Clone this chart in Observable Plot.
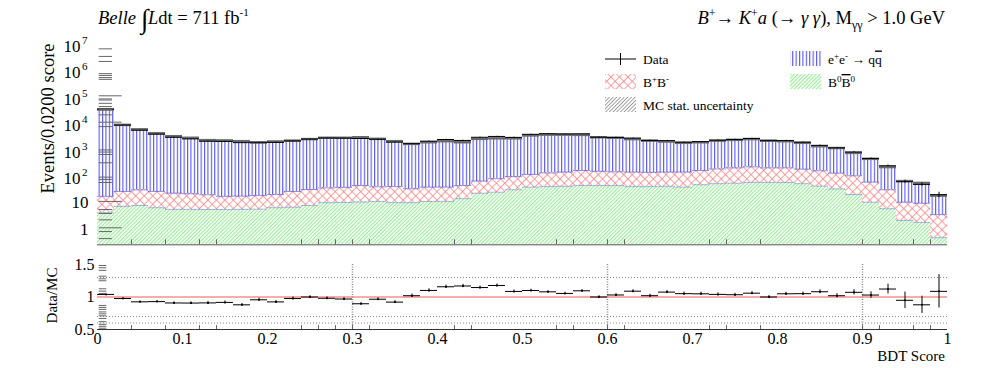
<!DOCTYPE html>
<html><head><meta charset="utf-8">
<script src="https://cdn.jsdelivr.net/npm/d3@7"></script>
<script src="https://cdn.jsdelivr.net/npm/@observablehq/plot@0.6"></script>
<style>
body{margin:0;background:#fff;}
#wrap{position:relative;width:997px;height:368px;font-family:"Liberation Serif","Times New Roman",serif;overflow:hidden;}
#wrap > svg{position:absolute;left:0;overflow:visible;}
</style></head><body>
<svg width="0" height="0" style="position:absolute">
<defs>
<pattern id="pBlue" patternUnits="userSpaceOnUse" width="3.4" height="10"><rect width="3.4" height="10" fill="#fff"/><rect x="0" width="1.1" height="10" fill="#5555f2"/></pattern>
<pattern id="pRed" patternUnits="userSpaceOnUse" width="6" height="6" patternTransform="rotate(45)"><rect width="6" height="6" fill="#fff"/><rect x="0" width="0.7" height="6" fill="#f77"/><rect y="0" width="6" height="0.7" fill="#f77"/></pattern>
<pattern id="pGreen" patternUnits="userSpaceOnUse" width="2.6" height="6" patternTransform="rotate(45)"><rect width="2.6" height="6" fill="#fff"/><rect x="0" width="1" height="6" fill="#8ef08e"/></pattern>
<pattern id="pGray" patternUnits="userSpaceOnUse" width="2.6" height="6" patternTransform="rotate(45)"><rect width="2.6" height="6" fill="#fff"/><rect x="0" width="0.9" height="6" fill="#999"/></pattern>
</defs>
</svg>
<div id="wrap"></div>
<script>
// ---------------- data ----------------
const binWidth = 0.02;
const binLow = d3.range(50).map(i => +(i * binWidth).toFixed(2));
const B0B0 = [3.7,6.5,7.0,5.75,5.0,5.0,4.9,4.9,5.0,5.1, 5.75,6.0,7.0,8.9,9.1,9.5,10,8.9,8.9,10,
  10,12.6,20.4,22.4,27.5,34.7,36.3,37.2,39.8,39.8, 39.8,36.3,36.3,37.2,34.7,42.7,46.8,49,52.5,52.5,
  52.5,46.8,38,29.5,18.2,9.3,5.25,1.9,1.6,0.42];
const BpBm = [11.8,17.2,20.5,18.0,15.4,14.5,12.9,10.6,10.8,11.5, 12.4,17.7,21.2,23.5,24.8,30.3,25.5,27.4,21.3,24.7,
  24.7,27.2,38.5,50,59.6,70,83.9,91.6,108.1,98.2, 92,92.5,89.6,91.6,94.1,105.2,123,137.2,151.7,133.7,
  133.7,119.2,106.5,88,75.1,44.4,22.3,7.4,6.9,2.74];
const qqbar = [30185,7916,5342,3776,2930,2550,2072,2024,1894,1723, 1842,1976,2262,2538,2536,2650,2305,1874,1480,1705,
  1875,1700,2281,2378,2363,3055,3270,3261,3162,2552, 2438,2161,1874,1731,1531,1592,1830,1954,2086,1814,
  1724,1494,1086,932,597,356,172,49.7,41.5,13.4];
const dataCounts = [31400,7760,4970,3530,2680,2330,1900,1870,1680,1665, 1720,1955,2290,2520,2490,2410,2260,1760,1540,1915,
  2210,2035,2680,2885,2660,3475,3660,3575,3625,2690, 2650,2495,2040,2000,1745,1825,2080,2215,2425,2000,
  2005,1745,1330,1070,740,422,224,56,44,18];

// axis ticks / labels
const yDomain = [Math.pow(10, -0.644), Math.pow(10, 7.5)];
const yLabelVals = [1, 10, 1e2, 1e3, 1e4, 1e5, 1e6, 1e7];
const yTicksLong = [1, 10, 1e4, 1e5];
const yTicksShort = [0.39, 0.72, 2.0, 3.5, 4.9, 52, 68, 83, 290, 600, 740, 890, 6800, 1.9e4, 3.0e4, 3.9e4, 5.2e4, 6.9e4, 7.6e4,
  4.2e5, 4.9e5, 5.9e5, 6.9e5, 2.0e6, 3.1e6, 6.0e6];
const xLabelVals = [0, 0.1, 0.2, 0.3, 0.4, 0.5, 0.6, 0.7, 0.8, 0.9, 1];
const xMinorTicks = [0.04, 0.08, 0.12, 0.14, 0.24, 0.26, 0.28, 0.30, 0.32, 0.42, 0.44, 0.54, 0.56, 0.60, 0.62, 0.72, 0.74, 0.78, 0.90, 0.92, 0.96, 0.98];
const rDomain = [0.5, 1.5];
const rLabelVals = [0.5, 1, 1.5];
const rTicks = [0.52, 0.55, 0.58, 0.62, 0.67, 0.71, 0.74, 0.77, 0.81, 0.84, 0.87, 1.054, 1.09, 1.126, 1.25, 1.28, 1.32, 1.41, 1.45, 1.485];
const rGridH = [1.3, 0.7, 0.6];
const rGridV = [0.3, 0.6, 0.9];

const rows = binLow.map((x0, i) => {
  const g = B0B0[i], r = BpBm[i], q = qqbar[i], n = dataCounts[i];
  const mc = g + r + q;
  return {x0, x1: x0 + binWidth, xm: x0 + binWidth / 2, gTop: g, rTop: g + r, tot: mc,
    data: n, dLo: n - Math.sqrt(n), dHi: n + Math.sqrt(n),
    ratio: n / mc, rLo: (n - Math.sqrt(n)) / mc, rHi: (n + Math.sqrt(n)) / mc};
});

const font = {fontFamily: '"Liberation Serif","Times New Roman",serif', background: "transparent", overflow: "visible"};
const wrap = document.getElementById("wrap");

// ---------------- upper panel ----------------
const upperPanel = Plot.plot({
  width: 997, height: 248,
  marginLeft: 97, marginRight: 50, marginTop: 29.3, marginBottom: 3.7,
  style: {...font, fontSize: "16px"},
  x: {domain: [0, 1], axis: null},
  y: {type: "log", domain: yDomain, axis: null},
  marks: [
    Plot.rectY(rows, {x1: "x0", x2: "x1", y1: yDomain[0], y2: "gTop", fill: "url(#pGreen)", shapeRendering: "crispEdges"}),
    Plot.rectY(rows, {x1: "x0", x2: "x1", y1: "gTop", y2: "rTop", fill: "url(#pRed)", shapeRendering: "crispEdges"}),
    Plot.rectY(rows, {x1: "x0", x2: "x1", y1: "rTop", y2: "tot", fill: "url(#pBlue)", shapeRendering: "crispEdges"}),
    Plot.ruleY(rows, {x1: "x0", x2: "x1", y: "rTop", stroke: "#3333dd", strokeOpacity: 0.55, strokeWidth: 1}),
    Plot.ruleY(rows, {x1: "x0", x2: "x1", y: "gTop", stroke: "#3333dd", strokeOpacity: 0.35, strokeWidth: 1}),
    Plot.ruleY(rows, {x1: "x0", x2: "x1", y: "tot", stroke: "#6a6a6a", strokeWidth: 2.5}),
    Plot.ruleY(rows, {x1: "x0", x2: "x1", y: "data", stroke: "#000", strokeWidth: 1}),
    Plot.ruleX(rows, {x: "xm", y1: "dLo", y2: "dHi", stroke: "#000", strokeWidth: 1}),
    Plot.ruleY(yTicksLong, {x1: 0.002, x2: 0.029, stroke: "#666", strokeWidth: 1}),
    Plot.ruleY(yTicksShort, {x1: 0.002, x2: 0.0176, stroke: "#666", strokeWidth: 1}),
    Plot.ruleY([yDomain[0]], {stroke: "#555", strokeWidth: 1}),
    Plot.ruleX(xMinorTicks, {y1: yDomain[0], y2: yDomain[0] * 1.55, stroke: "#666"}),
    Plot.text(yLabelVals.filter(d => d < 100), {y: d => d, text: d => String(d), frameAnchor: "left", textAnchor: "end", dx: -9, dy: 1.5, fontSize: 17, fill: "#000"}),
    Plot.text(yLabelVals.filter(d => d >= 100), {y: d => d, text: d => "10", frameAnchor: "left", textAnchor: "end", dx: -17, dy: 3.5, fontSize: 17, fill: "#000"}),
    Plot.text(yLabelVals.filter(d => d >= 100), {y: d => d, text: d => String(Math.round(Math.log10(d))), frameAnchor: "left", textAnchor: "start", dx: -15.5, dy: -2.5, fontSize: 11, fill: "#000"})
  ]
});
upperPanel.style.top = "0px";
wrap.appendChild(upperPanel);

// ---------------- ratio panel ----------------
const lowerPanel = Plot.plot({
  width: 997, height: 120,
  marginLeft: 97, marginRight: 50, marginTop: 16, marginBottom: 39,
  style: {...font, fontSize: "15px"},
  x: {domain: [0, 1], axis: null},
  y: {domain: rDomain, axis: null},
  marks: [
    Plot.ruleY(rGridH, {stroke: "#888", strokeDasharray: "1,2", strokeWidth: 1}),
    Plot.ruleX(rGridV, {stroke: "#888", strokeDasharray: "1,1.5", strokeWidth: 1.5}),
    Plot.ruleY([1], {stroke: "#f55", strokeWidth: 1}),
    Plot.ruleY(rows, {x1: "x0", x2: "x1", y: "ratio", stroke: "#000", strokeWidth: 1}),
    Plot.ruleX(rows, {x: "xm", y1: "rLo", y2: "rHi", stroke: "#000", strokeWidth: 1}),
    Plot.dot(rows, {x: "xm", y: "ratio", r: 1, fill: "#000"}),
    Plot.ruleY(rTicks, {x1: 0.002, x2: 0.011, stroke: "#666"}),
    Plot.ruleY([rDomain[0]], {stroke: "#333", strokeWidth: 1}),
    Plot.ruleX(xMinorTicks, {y1: rDomain[0], y2: rDomain[0] + 0.06, stroke: "#666"}),
    Plot.axisY(rLabelVals, {anchor: "left", tickSize: 0, tickPadding: 3, tickFormat: d => String(d), fontSize: 16, label: null}),
    Plot.axisX(xLabelVals, {anchor: "bottom", tickSize: 0, tickPadding: 3, tickFormat: d => String(d), fontSize: 16, label: null})
  ]
});
lowerPanel.style.top = "248px";
wrap.appendChild(lowerPanel);

// ---------------- overlay: titles, axis titles, legend ----------------
const NS = "http://www.w3.org/2000/svg";
const ov = document.createElementNS(NS, "svg");
ov.setAttribute("width", 997); ov.setAttribute("height", 368);
ov.style.top = "0px";
ov.setAttribute("font-family", '"Liberation Serif","Times New Roman",serif');
ov.innerHTML = `
<text x="98" y="24" font-size="18.5"><tspan font-style="italic">Belle</tspan><tspan> </tspan><tspan font-size="27" dy="4">∫</tspan><tspan font-style="italic" dy="-4">L</tspan><tspan>dt = 711 fb</tspan><tspan font-size="11" dy="-8">-1</tspan></text>
<text x="945" y="24" font-size="18.5" text-anchor="end"><tspan font-style="italic">B</tspan><tspan font-size="12" dy="-7">+</tspan><tspan dy="7">→ </tspan><tspan font-style="italic">K</tspan><tspan font-size="12" dy="-7">+</tspan><tspan font-style="italic" dy="7">a</tspan><tspan> (→  </tspan><tspan font-style="italic">γ γ</tspan><tspan>), M</tspan><tspan font-size="12" dy="5">γγ</tspan><tspan dy="-5"> &gt; 1.0 GeV</tspan></text>
<text transform="translate(54,118.5) rotate(-90)" text-anchor="middle" font-size="18.5">Events/0.0200 score</text>
<text transform="translate(57,295.5) rotate(-90)" text-anchor="middle" font-size="15">Data/MC</text>
<text x="945" y="361" text-anchor="end" font-size="15">BDT Score</text>
<line x1="605" x2="636" y1="59" y2="59" stroke="#000"/><line x1="620.5" x2="620.5" y1="53" y2="65" stroke="#000"/>
<text x="643" y="63.5" font-size="13.5">Data</text>
<rect x="790" y="51" width="31" height="15" fill="url(#pBlue)"/>
<text x="828" y="63.5" font-size="13.5"><tspan>e</tspan><tspan font-size="9" dy="-5">+</tspan><tspan dy="5">e</tspan><tspan font-size="9" dy="-5">-</tspan><tspan dy="5"> → q</tspan><tspan text-decoration="overline">q</tspan></text>
<rect x="605" y="74" width="31" height="15" fill="url(#pRed)"/>
<text x="643" y="87" font-size="13.5"><tspan>B</tspan><tspan font-size="9" dy="-5">+</tspan><tspan dy="5">B</tspan><tspan font-size="9" dy="-5">-</tspan></text>
<rect x="790" y="74" width="31" height="15" fill="url(#pGreen)"/>
<text x="828" y="87" font-size="13.5"><tspan>B</tspan><tspan font-size="9" dy="-5">0</tspan><tspan dy="5" text-decoration="overline">B</tspan><tspan font-size="9" dy="-5">0</tspan></text>
<rect x="605" y="97" width="31" height="15" fill="url(#pGray)"/>
<text x="643" y="110" font-size="13.5">MC stat. uncertainty</text>
`;
wrap.appendChild(ov);
</script>
</body></html>
